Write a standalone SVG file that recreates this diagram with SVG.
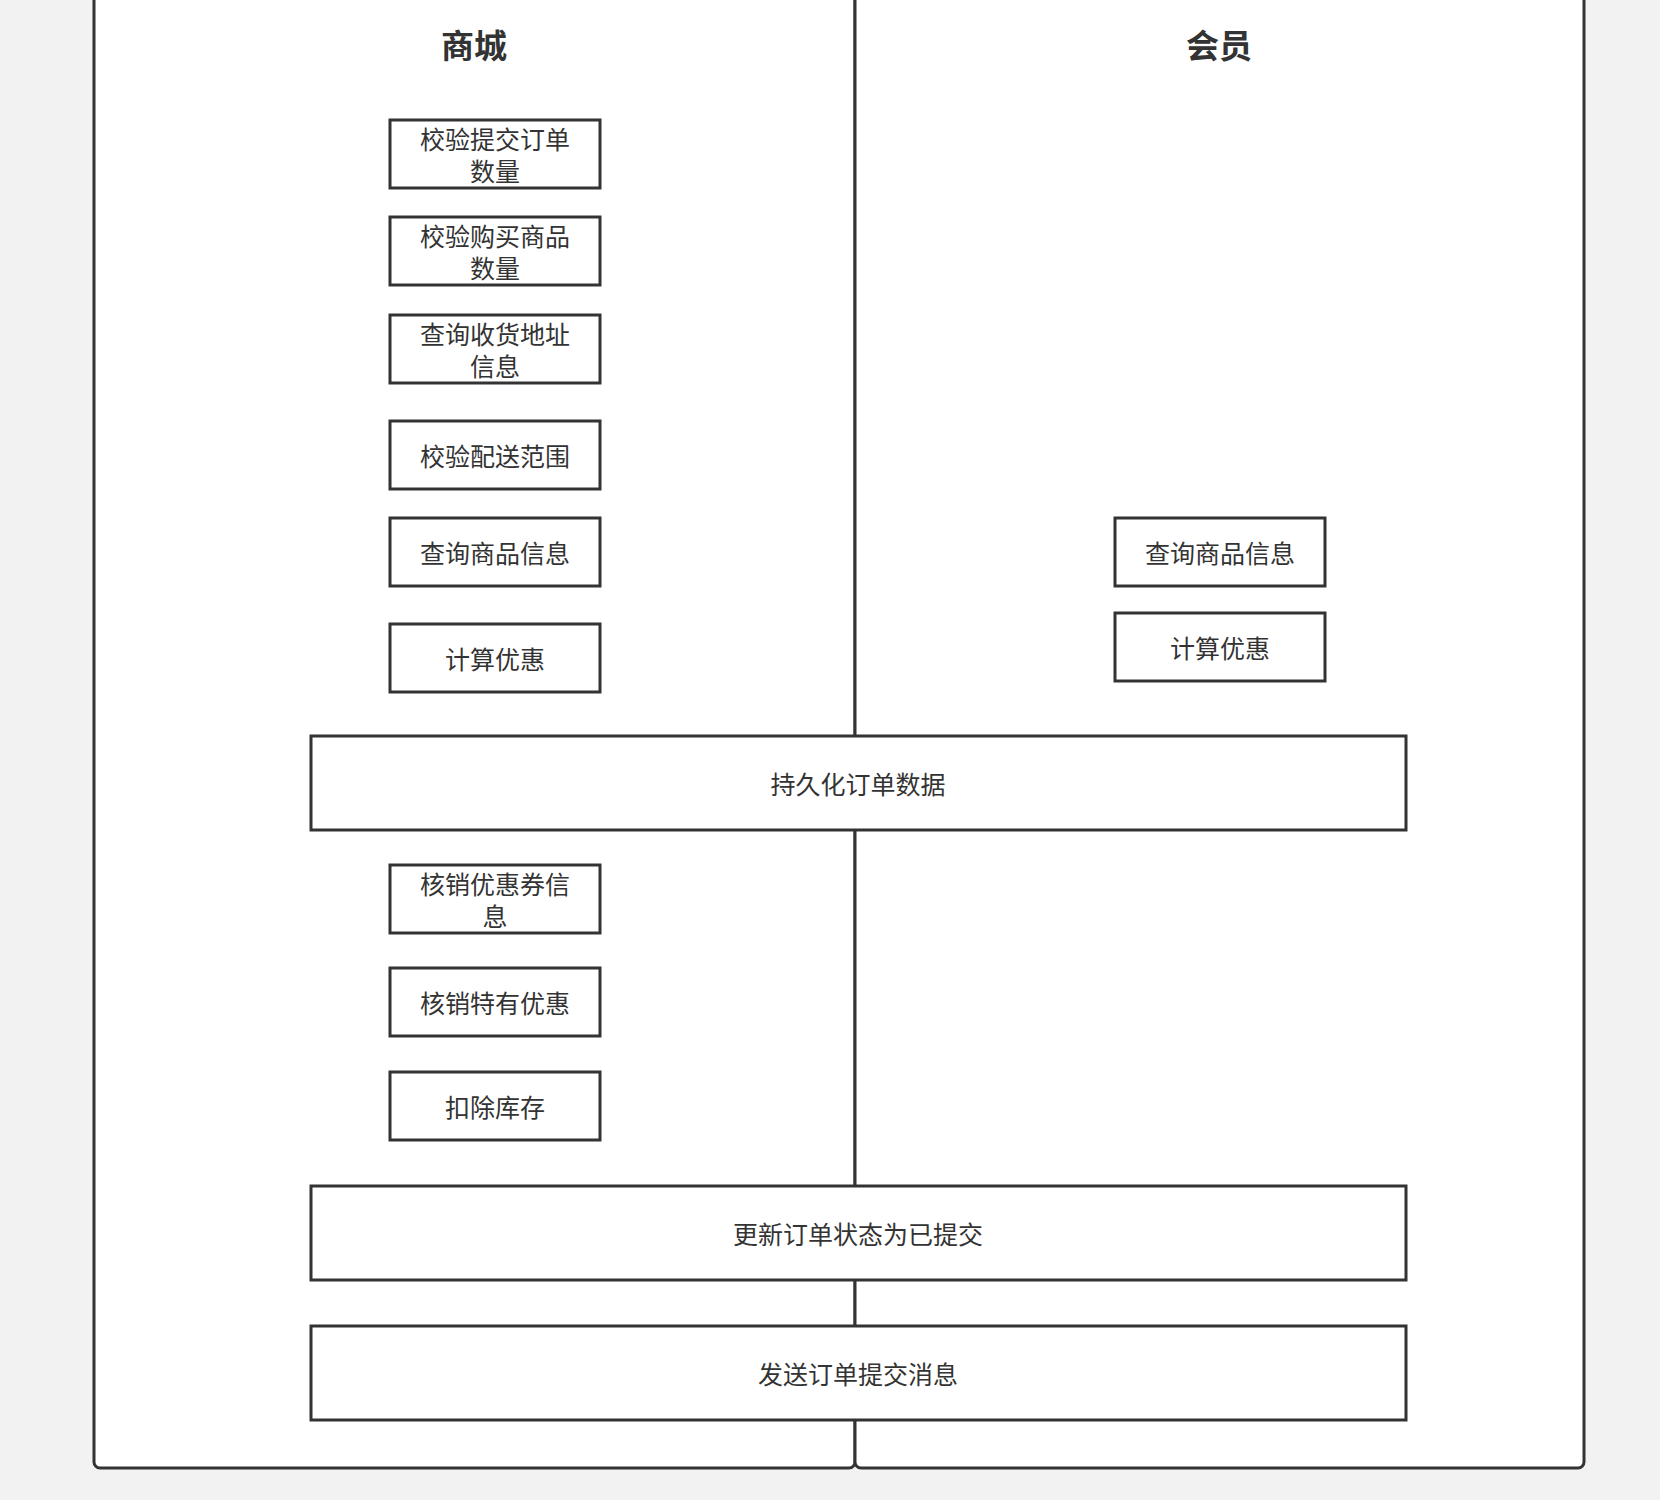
<svg xmlns="http://www.w3.org/2000/svg" width="1660" height="1500" viewBox="0 0 1660 1500">
<style>
.lane{fill:#fff;stroke:#333;stroke-width:3}
.b{fill:#fff;stroke:#333;stroke-width:3}
.t{font-family:"Noto Sans CJK SC","Liberation Sans",sans-serif;font-size:25px;fill:#333;text-anchor:middle;dominant-baseline:central}
.h{font-family:"Noto Sans CJK SC","Liberation Sans",sans-serif;font-size:33px;font-weight:bold;fill:#333;text-anchor:middle;dominant-baseline:central}
</style>
<rect width="1660" height="1500" fill="#f2f2f2"/>
<g id="lane-mall"><rect class="lane" x="94" y="-20" width="761" height="1488" rx="6"/><text class="h" x="474" y="44">商城</text></g>
<g id="lane-member"><rect class="lane" x="855" y="-20" width="729" height="1488" rx="6"/><text class="h" x="1219" y="44">会员</text></g>
<g id="connectors"></g>
<g id="n1"><rect class="b" x="390" y="120" width="210" height="68"/><text class="t" x="495" y="138">校验提交订单</text><text class="t" x="495" y="170">数量</text></g>
<g id="n2"><rect class="b" x="390" y="217" width="210" height="68"/><text class="t" x="495" y="235">校验购买商品</text><text class="t" x="495" y="267">数量</text></g>
<g id="n3"><rect class="b" x="390" y="315" width="210" height="68"/><text class="t" x="495" y="333">查询收货地址</text><text class="t" x="495" y="365">信息</text></g>
<g id="n4"><rect class="b" x="390" y="421" width="210" height="68"/><text class="t" x="495" y="455">校验配送范围</text></g>
<g id="n5"><rect class="b" x="390" y="518" width="210" height="68"/><text class="t" x="495" y="552">查询商品信息</text></g>
<g id="n6"><rect class="b" x="390" y="624" width="210" height="68"/><text class="t" x="495" y="658">计算优惠</text></g>
<g id="n7"><rect class="b" x="1115" y="518" width="210" height="68"/><text class="t" x="1220" y="552">查询商品信息</text></g>
<g id="n8"><rect class="b" x="1115" y="613" width="210" height="68"/><text class="t" x="1220" y="647">计算优惠</text></g>
<g id="n9"><rect class="b" x="311" y="736" width="1095" height="94"/><text class="t" x="858" y="783">持久化订单数据</text></g>
<g id="n10"><rect class="b" x="390" y="865" width="210" height="68"/><text class="t" x="495" y="883">核销优惠券信</text><text class="t" x="495" y="915">息</text></g>
<g id="n11"><rect class="b" x="390" y="968" width="210" height="68"/><text class="t" x="495" y="1002">核销特有优惠</text></g>
<g id="n12"><rect class="b" x="390" y="1072" width="210" height="68"/><text class="t" x="495" y="1106">扣除库存</text></g>
<g id="n13"><rect class="b" x="311" y="1186" width="1095" height="94"/><text class="t" x="858" y="1233">更新订单状态为已提交</text></g>
<g id="n14"><rect class="b" x="311" y="1326" width="1095" height="94"/><text class="t" x="858" y="1373">发送订单提交消息</text></g>
</svg>
